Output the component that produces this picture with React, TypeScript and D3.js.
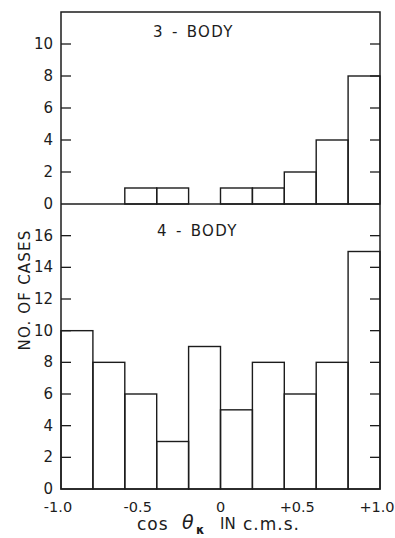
import { useEffect, useRef } from "react";
import * as d3 from "d3";

// bins of cos(theta_K), width 0.2, from -1.0 to +1.0
const binEdges = [-1.0, -0.8, -0.6, -0.4, -0.2, 0, 0.2, 0.4, 0.6, 0.8, 1.0];
const threeBody = [0, 0, 1, 1, 0, 1, 1, 2, 4, 8];
const fourBody = [10, 8, 6, 3, 9, 5, 8, 6, 8, 15];

const xTicks = [-1.0, -0.5, 0, 0.5, 1.0];
const xTickLabels = ["-1.0", "-0.5", "0", "+0.5", "+1.0"];
const topYTicks = [0, 2, 4, 6, 8, 10];
const bottomYTicks = [0, 2, 4, 6, 8, 10, 12, 14, 16];

const INK = "#1c1c1c";
const FONT = "DejaVu Sans, sans-serif";

export default function App() {
  const svgRef = useRef<SVGSVGElement>(null);

  useEffect(() => {
    const svg = d3.select(svgRef.current);
    svg.selectAll("*").remove();

    const left = 61;
    const right = 380;
    const top = 12;
    const mid = 204;
    const bottom = 489;

    const x = d3.scaleLinear().domain([-1, 1]).range([left, right]);
    const yTop = d3.scaleLinear().domain([0, 12]).range([mid, top]);
    const yBot = d3.scaleLinear().domain([0, 18]).range([bottom, mid]);

    const panels = [
      { data: threeBody, y: yTop, ticks: topYTicks, label: "3 - BODY", lx: 153, ly: 37 },
      { data: fourBody, y: yBot, ticks: bottomYTicks, label: "4 - BODY", lx: 157, ly: 236 },
    ];

    for (const p of panels) {
      const g = svg.append("g");

      // bars (zero bins drawn nothing)
      g.selectAll("rect")
        .data(p.data.map((v, i) => ({ v, x0: binEdges[i], x1: binEdges[i + 1] })).filter((d) => d.v > 0))
        .join("rect")
        .attr("x", (d) => x(d.x0))
        .attr("width", (d) => x(d.x1) - x(d.x0))
        .attr("y", (d) => p.y(d.v))
        .attr("height", (d) => p.y(0) - p.y(d.v))
        .attr("fill", "none")
        .attr("stroke", INK)
        .attr("stroke-width", 1.4);

      // inward ticks on both sides
      const tickLen = 10;
      g.selectAll("line.lt")
        .data(p.ticks.filter((t) => t > 0))
        .join("line")
        .attr("x1", left).attr("x2", left + tickLen)
        .attr("y1", (t) => p.y(t)).attr("y2", (t) => p.y(t))
        .attr("stroke", INK).attr("stroke-width", 1.3);
      g.selectAll("line.rt")
        .data(p.ticks.filter((t) => t > 0))
        .join("line")
        .attr("x1", right - tickLen).attr("x2", right)
        .attr("y1", (t) => p.y(t)).attr("y2", (t) => p.y(t))
        .attr("stroke", INK).attr("stroke-width", 1.3);

      // tick labels
      g.selectAll("text.yt")
        .data(p.ticks)
        .join("text")
        .attr("x", 53)
        .attr("y", (t) => p.y(t) + 5)
        .attr("text-anchor", "end")
        .attr("font-family", FONT)
        .attr("font-size", 15)
        .attr("fill", INK)
        .text((t) => String(t));

      g.append("text")
        .attr("x", p.lx)
        .attr("y", p.ly)
        .attr("font-family", FONT)
        .attr("font-size", 15)
        .attr("letter-spacing", 1.3)
        .attr("word-spacing", 2)
        .attr("fill", INK)
        .attr("xml:space", "preserve")
        .text(p.label);
    }

    // frame
    svg.append("rect")
      .attr("x", left).attr("y", top)
      .attr("width", right - left).attr("height", bottom - top)
      .attr("fill", "none").attr("stroke", INK).attr("stroke-width", 1.5);
    svg.append("line")
      .attr("x1", left).attr("x2", right)
      .attr("y1", mid).attr("y2", mid)
      .attr("stroke", INK).attr("stroke-width", 1.5);

    // x tick labels
    svg.selectAll("text.xt")
      .data(xTicks)
      .join("text")
      .attr("x", (t) => x(t) - (t === 0 ? 0 : 3))
      .attr("y", 512)
      .attr("text-anchor", "middle")
      .attr("font-family", FONT)
      .attr("font-size", 14.5)
      .attr("fill", INK)
      .text((_, i) => xTickLabels[i]);

    // x title
    const xt = svg.append("g").attr("font-family", FONT).attr("fill", INK);
    xt.append("text").attr("x", 137).attr("y", 530).attr("font-size", 17).attr("letter-spacing", 1).text("cos");
    xt.append("text").attr("x", 182).attr("y", 529).attr("font-size", 19).attr("font-style", "italic").text("θ");
    xt.append("text").attr("x", 196).attr("y", 534).attr("font-size", 12).attr("font-weight", "bold").text("κ");
    xt.append("text").attr("x", 220).attr("y", 529).attr("font-size", 15).text("IN");
    xt.append("text").attr("x", 243).attr("y", 530).attr("font-size", 17).attr("letter-spacing", 1).text("c.m.s.");

    // y title
    svg.append("text")
      .attr("transform", "translate(30,290) rotate(-90)")
      .attr("text-anchor", "middle")
      .attr("font-family", FONT)
      .attr("font-size", 15)
      .attr("letter-spacing", 1.2)
      .attr("fill", INK)
      .text("NO. OF CASES");
  }, []);

  return (
    <svg
      ref={svgRef}
      width={395}
      height={538}
      style={{ position: "absolute", left: 0, top: 0, background: "#fff" }}
    />
  );
}
